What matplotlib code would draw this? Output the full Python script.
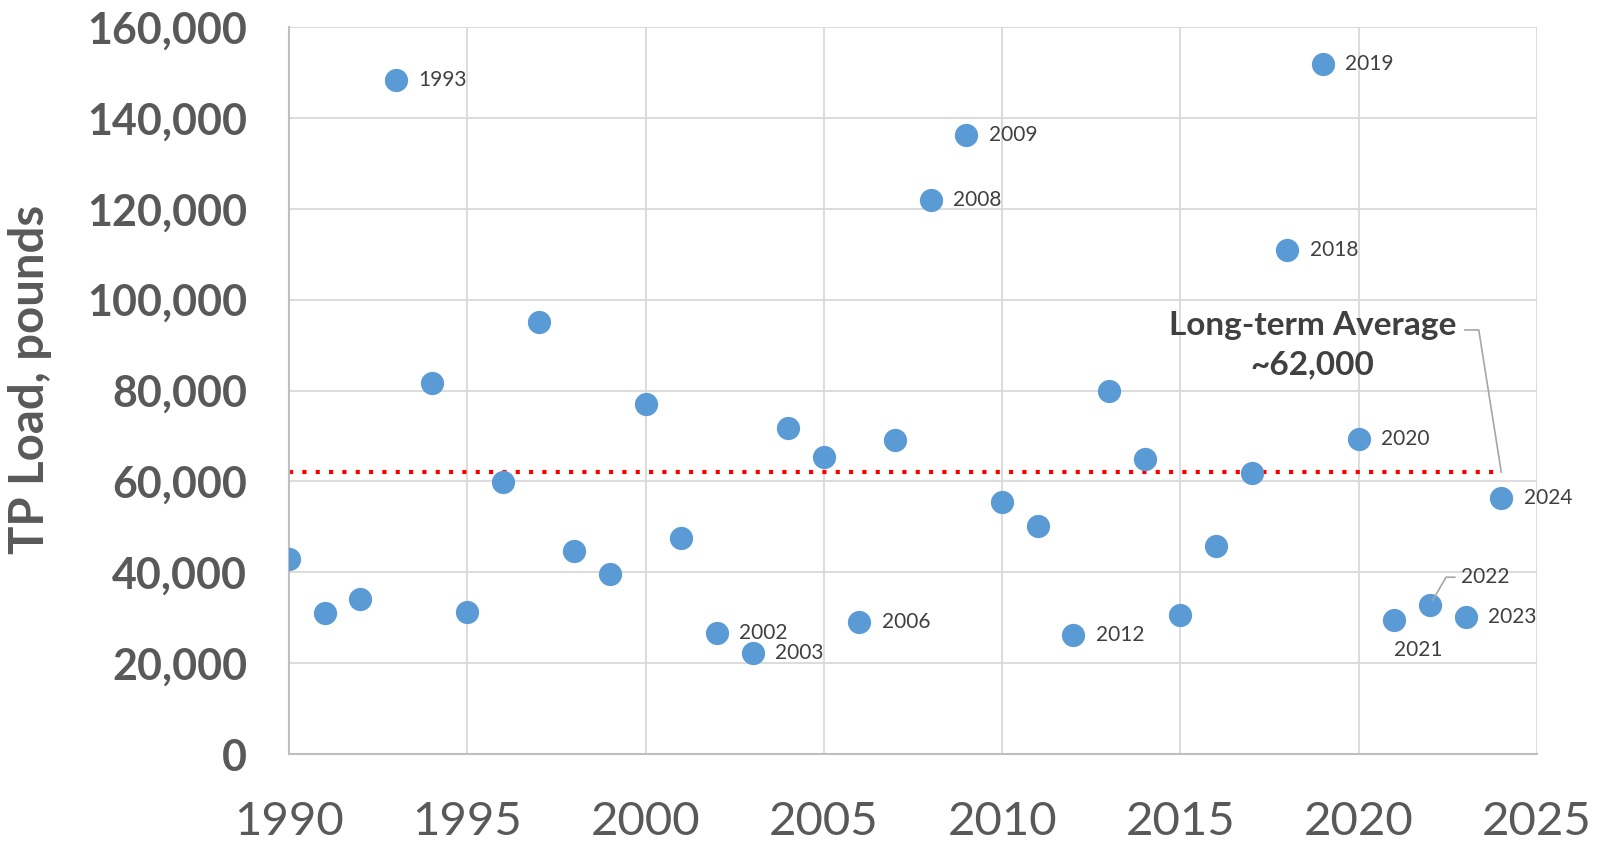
import matplotlib.pyplot as plt

plt.rcParams['font.family'] = ['Lato', 'DejaVu Sans']

years = list(range(1990, 2025))
tp_load = [43000, 31000, 34200, 148300, 81600, 31200, 59800, 95100, 44700, 39600,
           77100, 47600, 26700, 22200, 71700, 65400, 29000, 69200, 122000, 136200,
           55500, 50100, 26100, 80000, 64900, 30600, 45800, 61800, 111000, 151900,
           69400, 29400, 32800, 30100, 56400]
long_term_avg = 62000

# years that get a data label on the right side of the point
labeled_years = [1993, 2002, 2003, 2006, 2008, 2009, 2012, 2018, 2019, 2020, 2023, 2024]

grey = '#595959'
blue = '#5b9bd5'

fig, ax = plt.subplots(figsize=(16, 8.44), dpi=100)
fig.subplots_adjust(left=0.1806, right=0.9606, top=0.968, bottom=0.1066)

ax.grid(True, color='#d9d9d9', linewidth=1.3)
ax.set_axisbelow(True)

ax.plot([years[0], years[-1]], [long_term_avg, long_term_avg], linestyle=(0, (1, 2.2)),
        color='#ff0000', linewidth=3, zorder=2)
ax.scatter(years, tp_load, s=280, color=blue, zorder=3, linewidths=0)

load_by_year = dict(zip(years, tp_load))
for yr in labeled_years:
    ax.annotate(str(yr), (yr, load_by_year[yr]), xytext=(16, 0), textcoords='offset points',
                ha='left', va='center', fontsize=15, color='#404040')

ax.annotate('2021', (2021, load_by_year[2021]), xytext=(17, -21), textcoords='offset points',
            ha='center', va='center', fontsize=15, color='#404040')
ax.annotate('2022', (2022, load_by_year[2022]), xytext=(22, 20), textcoords='offset points',
            ha='left', va='center', fontsize=15, color='#404040',
            arrowprops=dict(arrowstyle='-', color='#a6a6a6', lw=1.2, relpos=(0, 0.5),
                            connectionstyle='angle,angleA=0,angleB=60,rad=0',
                            shrinkA=2, shrinkB=4))

ax.annotate('Long-term Average\n~62,000', (2024, long_term_avg), xytext=(2018.7, 90000),
            ha='center', va='center', fontsize=24, fontweight='bold', color='#404040',
            linespacing=1.45,
            arrowprops=dict(arrowstyle='-', color='#a6a6a6', lw=1.2, relpos=(1.03, 0.72),
                            connectionstyle='angle,angleA=0,angleB=99,rad=0',
                            shrinkA=0, shrinkB=0))

ax.set_xlim(1990, 2025)
ax.set_ylim(0, 160000)
ax.set_xticks(range(1990, 2026, 5))
ax.set_yticks(range(0, 160001, 20000))
ax.set_yticklabels([f'{v:,}' for v in range(0, 160001, 20000)])
ax.tick_params(length=0)
ax.tick_params(axis='x', labelsize=34, labelcolor=grey, pad=34)
ax.tick_params(axis='y', labelsize=31, labelcolor=grey, pad=30)
for lbl in ax.get_yticklabels():
    lbl.set_fontweight('bold')

for side in ['top', 'right']:
    ax.spines[side].set_visible(False)
for side in ['left', 'bottom']:
    ax.spines[side].set_color('#bfbfbf')
    ax.spines[side].set_linewidth(1.5)

ax.set_ylabel('TP Load, pounds', fontsize=34, fontweight='bold', color=grey)
ax.yaxis.set_label_coords(-0.19, 0.515)

plt.savefig('out.png', dpi=100)
